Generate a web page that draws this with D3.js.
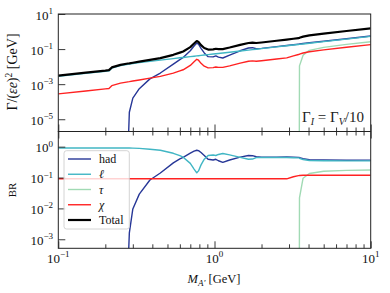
<!DOCTYPE html>
<html>
<head>
<meta charset="utf-8">
<script src="https://d3js.org/d3.v7.min.js"></script>
<style>
  body { margin: 0; background: #fff; }
  svg text { font-family: "Liberation Serif", "DejaVu Serif", serif; }
  .domain { display: none; }
  .tick line { stroke: #222; stroke-width: 0.9; }
</style>
</head>
<body>
<script>
// dark photon mass grid [GeV]
const massAll = [0.1, 0.15, 0.2, 0.211, 0.22, 0.25, 0.279, 0.285, 0.3, 0.33, 0.386, 0.45, 0.545, 0.6, 0.63,
  0.7, 0.74, 0.77, 0.79, 0.82, 0.86, 0.91, 0.98, 1.02, 1.06, 1.13, 1.25, 1.46, 1.65, 1.75, 1.85, 2.0, 2.5,
  2.9, 3.2, 3.45, 3.49, 3.5, 3.69, 4.05, 5, 7, 10];
const massHad = massAll.slice(6);
const massTau = [3.49, 3.5, 3.69, 4.05, 5, 7, 10];

// widths Gamma/(eps e)^2 [GeV]
const gammaLep = [2.8e-3, 4.1e-3, 5.4e-3, 5.7e-3, 8.2e-3, 1.14e-2, 1.36e-2, 1.40e-2, 1.5e-2, 1.68e-2,
  2.0e-2, 2.35e-2, 2.87e-2, 3.18e-2, 3.33e-2, 3.7e-2, 3.92e-2, 4.08e-2, 4.19e-2, 4.35e-2,
  4.56e-2, 4.83e-2, 5.2e-2, 5.41e-2, 5.62e-2, 6.0e-2, 6.63e-2, 7.75e-2, 8.75e-2, 9.28e-2,
  9.8e-2, 0.106, 0.133, 0.154, 0.17, 0.184, 0.186, 0.186, 0.196, 0.215, 0.265, 0.371, 0.53];
const gammaHad = [1e-7, 2.5e-5, 1.6e-4, 5.5e-4, 2.0e-3, 4.3e-3, 1.4e-2, 2.5e-2, 3.3e-2, 8.0e-2,
  0.15, 0.22, 0.19, 0.11, 0.06, 0.037, 0.036, 0.041, 0.035, 0.031, 0.045, 0.08, 0.115, 0.12,
  0.104, 0.11, 0.138, 0.16, 0.176, 0.192, 0.194, 0.195, 0.208, 0.228, 0.28, 0.39, 0.56];
const gammaTau = [1e-7, 0.011, 0.045, 0.085, 0.125, 0.185, 0.26];
const gammaInv = [2.8e-4, 4.1e-4, 5.4e-4, 5.7e-4, 8.2e-4, 1.14e-3, 1.36e-3, 1.40e-3, 1.52e-3, 1.74e-3,
  2.2e-3, 2.78e-3, 4.27e-3, 5.7e-3, 6.6e-3, 1.17e-2, 1.89e-2, 2.61e-2, 2.32e-2, 1.54e-2,
  1.06e-2, 8.5e-3, 8.8e-3, 9.5e-3, 9.1e-3, 9.1e-3, 1.11e-2, 1.58e-2, 2.03e-2, 2.13e-2,
  2.02e-2, 2.16e-2, 2.71e-2, 3.14e-2, 4.1e-2, 4.9e-2, 5.0e-2, 5.2e-2, 6.0e-2, 7.1e-2, 9.0e-2, 0.127, 0.18];
const gammaTotal = [3.08e-3, 4.5e-3, 5.9e-3, 6.3e-3, 9.0e-3, 1.25e-2, 1.5e-2, 1.54e-2, 1.67e-2, 1.91e-2,
  2.42e-2, 3.06e-2, 4.7e-2, 6.25e-2, 7.3e-2, 0.129, 0.208, 0.287, 0.255, 0.169,
  0.116, 0.0938, 0.0968, 0.1046, 0.1003, 0.1001, 0.1224, 0.173, 0.223, 0.234,
  0.222, 0.238, 0.298, 0.345, 0.387, 0.425, 0.43, 0.444, 0.51, 0.6, 0.76, 1.07, 1.53];

// branching ratios
const brLep = [0.909, 0.909, 0.909, 0.909, 0.909, 0.909, 0.909, 0.908, 0.898, 0.88,
  0.826, 0.768, 0.61, 0.51, 0.457, 0.287, 0.188, 0.142, 0.164, 0.257,
  0.393, 0.515, 0.537, 0.517, 0.56, 0.6, 0.54, 0.448, 0.392, 0.397,
  0.441, 0.445, 0.446, 0.446, 0.439, 0.433, 0.433, 0.419, 0.384, 0.358, 0.349, 0.346, 0.346];
const brHad = [1e-4, 1.6e-3, 9.6e-3, 2.9e-2, 0.083, 0.14, 0.298, 0.40, 0.45, 0.62,
  0.72, 0.767, 0.745, 0.65, 0.52, 0.39, 0.37, 0.39, 0.35, 0.31, 0.37, 0.46, 0.516, 0.51,
  0.47, 0.46, 0.46, 0.464, 0.455, 0.45, 0.45, 0.44, 0.408, 0.38, 0.368, 0.363, 0.366];
const brTau = [1e-5, 0.022, 0.095, 0.135, 0.16, 0.17, 0.175];
const brInv = [0.0909, 0.0909, 0.0909, 0.0909, 0.0909, 0.0909, 0.0909, 0.0909, 0.0909, 0.0909,
  0.0909, 0.0909, 0.0909, 0.0909, 0.0909, 0.0909, 0.0909, 0.0909, 0.0909, 0.0909,
  0.0909, 0.0909, 0.0909, 0.0909, 0.0909, 0.0909, 0.0909, 0.0909, 0.0909, 0.0909,
  0.0909, 0.0909, 0.0909, 0.0909, 0.106, 0.115, 0.116, 0.117, 0.118, 0.118, 0.118, 0.118, 0.118];

const legendNames = ['had', 'ℓ', 'τ', 'χ', 'Total'];
const colors = {had: '#273797', lep: '#41b6c4', tau: '#a1dab4', inv: '#ff2222', total: '#000'};

const width = 390, height = 293;
const left = 58.3, right = 370.7;
const top0 = 14, split = 131.5, bottom = 248.3;

const svg = d3.select('body').append('svg').attr('width', width).attr('height', height);

const x = d3.scaleLog().domain([0.1, 10]).range([left, right]);
const yTop = d3.scaleLog().domain([2e-6, 10]).range([split, top0]);
const yBr = d3.scaleLog().domain([5.1e-4, 3.1]).range([bottom, split]);

const defs = svg.append('defs');
defs.append('clipPath').attr('id', 'clipTop').append('rect')
  .attr('x', left).attr('y', top0).attr('width', right - left).attr('height', split - top0);
defs.append('clipPath').attr('id', 'clipBr').append('rect')
  .attr('x', left).attr('y', split).attr('width', right - left).attr('height', bottom - split);

const gTop = svg.append('g').attr('clip-path', 'url(#clipTop)');
const gBr = svg.append('g').attr('clip-path', 'url(#clipBr)');

function drawLine(g, xs, ys, yScale, color, w) {
  const line = d3.line().x(d => x(d[0])).y(d => yScale(d[1]));
  g.append('path').datum(d3.zip(xs, ys))
    .attr('d', line).attr('fill', 'none')
    .attr('stroke', color).attr('stroke-width', w)
    .attr('stroke-linejoin', 'round');
}

drawLine(gTop, massHad, gammaHad, yTop, colors.had, 1.4);
drawLine(gTop, massAll, gammaLep, yTop, colors.lep, 1.4);
drawLine(gTop, massTau, gammaTau, yTop, colors.tau, 1.4);
drawLine(gTop, massAll, gammaInv, yTop, colors.inv, 1.4);
drawLine(gTop, massAll, gammaTotal, yTop, colors.total, 2.2);

drawLine(gBr, massHad, brHad, yBr, colors.had, 1.4);
drawLine(gBr, massAll, brLep, yBr, colors.lep, 1.4);
drawLine(gBr, massTau, brTau, yBr, colors.tau, 1.4);
drawLine(gBr, massAll, brInv, yBr, colors.inv, 1.4);

// ticks, all pointing inwards
const majorX = [0.1, 1, 10];
const minorX = [0.2, 0.3, 0.4, 0.5, 0.6, 0.7, 0.8, 0.9, 2, 3, 4, 5, 6, 7, 8, 9];

function xTicks(y, axisFn) {
  svg.append('g').attr('transform', `translate(0,${y})`)
    .call(axisFn(x).tickValues(majorX).tickSize(-7).tickFormat(''));
  svg.append('g').attr('transform', `translate(0,${y})`)
    .call(axisFn(x).tickValues(minorX).tickSize(-4).tickFormat(''));
}
xTicks(split, d3.axisBottom);
xTicks(split, d3.axisTop);
xTicks(bottom, d3.axisBottom);

svg.append('g').attr('transform', `translate(${left},0)`)
  .call(d3.axisLeft(yTop).tickValues([10, 0.1, 1e-3, 1e-5]).tickSize(-7).tickFormat(''));
svg.append('g').attr('transform', `translate(${left},0)`)
  .call(d3.axisLeft(yBr).tickValues([1, 0.1, 0.01, 0.001]).tickSize(-7).tickFormat(''));

// frames
[[top0, split], [split, bottom]].forEach(([a, b]) => {
  svg.append('rect').attr('x', left).attr('y', a).attr('width', right - left).attr('height', b - a)
    .attr('fill', 'none').attr('stroke', '#222').attr('stroke-width', 1);
});

const expText = v => String(Math.round(Math.log10(v))).replace('-', '−');

function powLabel(px, py, v, anchor) {
  const t = svg.append('text').attr('x', px).attr('y', py)
    .attr('text-anchor', anchor).attr('font-size', 13).attr('fill', '#111');
  t.append('tspan').text('10');
  t.append('tspan').attr('dy', -5.5).attr('font-size', 9).text(expText(v));
}

[10, 0.1, 1e-3, 1e-5].forEach(v => powLabel(53, yTop(v) + 5.5, v, 'end'));
[1, 0.1, 0.01, 0.001].forEach(v => powLabel(53, yBr(v) + 5.5, v, 'end'));
majorX.forEach(v => powLabel(x(v), 262.5, v, 'middle'));

// axis labels
const xl = svg.append('text').attr('x', 214).attr('y', 283).attr('text-anchor', 'middle')
  .attr('font-size', 12.5).attr('fill', '#111');
xl.append('tspan').attr('font-style', 'italic').text('M');
xl.append('tspan').attr('font-style', 'italic').attr('font-size', 9).attr('dy', 3).text('A′');
xl.append('tspan').attr('dy', -3).text('  [GeV]');

const yl = svg.append('text').attr('transform', 'translate(17,72) rotate(-90)')
  .attr('text-anchor', 'middle').attr('font-size', 14).attr('fill', '#111');
yl.append('tspan').text('Γ/(');
yl.append('tspan').attr('font-style', 'italic').text('εe');
yl.append('tspan').text(')');
yl.append('tspan').attr('font-size', 9.5).attr('dy', -5).text('2');
yl.append('tspan').attr('dy', 5).text(' [GeV]');

svg.append('text').attr('transform', 'translate(16,190) rotate(-90)')
  .attr('text-anchor', 'middle').attr('font-size', 11).attr('fill', '#111').text('BR');

// annotation
const an = svg.append('text').attr('x', 364).attr('y', 121.5).attr('text-anchor', 'end')
  .attr('font-size', 15).attr('fill', '#222');
an.append('tspan').text('Γ');
an.append('tspan').attr('font-style', 'italic').attr('font-size', 10).attr('dy', 3).text('I');
an.append('tspan').attr('dy', -3).text(' = Γ');
an.append('tspan').attr('font-style', 'italic').attr('font-size', 10).attr('dy', 3).text('V');
an.append('tspan').attr('dy', -3).text('/10');

// legend
const lg = svg.append('g');
lg.append('rect').attr('x', 64).attr('y', 150.7).attr('width', 65.3).attr('height', 78.3)
  .attr('rx', 2.5).attr('fill', '#fff').attr('fill-opacity', 0.8)
  .attr('stroke', '#cfcfcf').attr('stroke-width', 0.9);
const legendColors = [colors.had, colors.lep, colors.tau, colors.inv, colors.total];
legendNames.forEach((name, i) => {
  const yy = 159 + i * 15.25;
  lg.append('line').attr('x1', 68).attr('x2', 91).attr('y1', yy).attr('y2', yy)
    .attr('stroke', legendColors[i]).attr('stroke-width', i === 4 ? 2.2 : 1.4);
  lg.append('text').attr('x', 99).attr('y', yy + 4).attr('font-size', 12)
    .attr('font-style', (i === 1 || i === 2 || i === 3) ? 'italic' : 'normal')
    .attr('fill', '#111').text(name);
});
</script>
</body>
</html>
